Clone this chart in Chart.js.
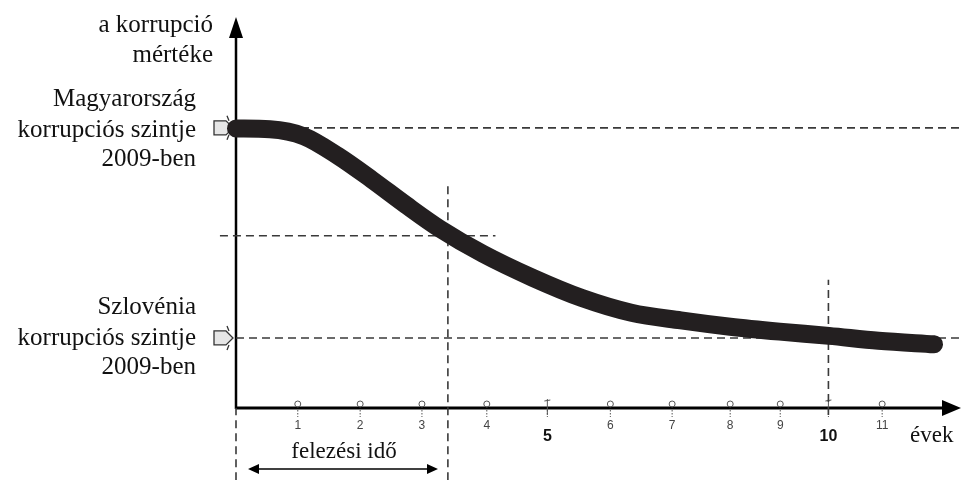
<!DOCTYPE html>
<html>
<head>
<meta charset="utf-8">
<script src="https://cdn.jsdelivr.net/npm/chart.js@4.4.1/dist/chart.umd.min.js"></script>
<style>
  html, body { margin: 0; padding: 0; background: #fff; }
  #wrap { width: 963px; height: 480px; }
</style>
</head>
<body>
<div id="wrap"><canvas id="c" width="963" height="480"></canvas></div>
<script>
// years on the axis and where each tick sits (the axis is hand-drawn, not even)
var tickYears = [1, 2, 3, 4, 5, 6, 7, 8, 9, 10, 11];
var tickPos = [1.0, 2.01, 3.01, 4.06, 5.04, 6.06, 7.06, 8.0, 8.81, 9.59, 10.46];
var boldYears = [5, 10];

// corruption curve
var curveX = [0, 0.55, 1.1, 1.65, 2.2, 2.75, 3.3, 4.0, 4.8, 5.6, 6.4, 7.2, 8.0, 8.8, 9.6, 10.4, 11.3];
var curveY = [3.99, 3.98, 3.88, 3.6, 3.26, 2.9, 2.56, 2.2, 1.86, 1.57, 1.36, 1.25, 1.16, 1.09, 1.03, 0.96, 0.91];

var huLevel = 4;     // Magyarország 2009
var slLevel = 1;     // Szlovénia 2009
var halfLevel = 2.46;
var halfTime = 3.43;
var yMax = 5.54;
var xMax = 11.72;

var dash = [8, 5];
var dashColor = '#3a3a3a';

function pts(xs, ys) {
  var out = [];
  for (var i = 0; i < xs.length; i++) out.push({x: xs[i], y: ys[i]});
  return out;
}

function dashed(xs, ys) {
  return {
    data: pts(xs, ys),
    borderColor: dashColor,
    borderWidth: 1.6,
    borderDash: dash,
    pointRadius: 0,
    fill: false,
    clip: false,
    order: 2
  };
}

var serif = '"Liberation Serif", "DejaVu Serif", serif';

var decor = {
  id: 'decor',
  beforeDatasetsDraw: function (chart) {
    var ctx = chart.ctx;
    var xs = chart.scales.x, ys = chart.scales.y;
    var x0 = xs.getPixelForValue(0), y0 = ys.getPixelForValue(0);
    ctx.save();
    ctx.strokeStyle = '#000';
    ctx.fillStyle = '#000';
    // y axis
    ctx.lineWidth = 2.5;
    ctx.beginPath();
    ctx.moveTo(x0, y0 + 1);
    ctx.lineTo(x0, 34);
    ctx.stroke();
    ctx.beginPath();
    ctx.moveTo(x0, 17);
    ctx.lineTo(x0 - 7, 38);
    ctx.lineTo(x0 + 7, 38);
    ctx.closePath();
    ctx.fill();
    // x axis
    ctx.lineWidth = 3;
    ctx.beginPath();
    ctx.moveTo(x0, y0);
    ctx.lineTo(946, y0);
    ctx.stroke();
    ctx.beginPath();
    ctx.moveTo(961, y0);
    ctx.lineTo(942, y0 - 8);
    ctx.lineTo(942, y0 + 8);
    ctx.closePath();
    ctx.fill();

    // tick marks: little circles with dotted stem
    ctx.lineWidth = 1;
    ctx.strokeStyle = '#555';
    for (var i = 0; i < tickPos.length; i++) {
      var px = xs.getPixelForValue(tickPos[i]);
      var bold = boldYears.indexOf(tickYears[i]) >= 0;
      ctx.beginPath();
      if (bold) {
        ctx.moveTo(px - 3, y0 - 7); ctx.lineTo(px + 3, y0 - 8);
        ctx.moveTo(px, y0 - 9); ctx.lineTo(px, y0 + 7);
      } else {
        ctx.arc(px, y0 - 4, 3, 0, Math.PI * 2);
      }
      ctx.stroke();
      ctx.save();
      ctx.setLineDash([1.5, 1.5]);
      ctx.beginPath();
      ctx.moveTo(px, y0 + 2);
      ctx.lineTo(px, y0 + 9);
      ctx.stroke();
      ctx.restore();

      ctx.textAlign = 'center';
      ctx.textBaseline = 'middle';
      if (bold) {
        ctx.fillStyle = '#111';
        ctx.font = 'bold 16px "Liberation Sans", Arial, sans-serif';
        ctx.fillText(String(tickYears[i]), px, y0 + 29);
      } else {
        ctx.fillStyle = '#444';
        ctx.font = '12px "Liberation Sans", Arial, sans-serif';
        ctx.fillText(String(tickYears[i]), px, y0 + 18);
      }
    }

    // level markers (small arrows left of y axis)
    [huLevel, slLevel].forEach(function (v) {
      var py = ys.getPixelForValue(v);
      ctx.beginPath();
      ctx.moveTo(x0 - 22, py - 7);
      ctx.lineTo(x0 - 10, py - 7);
      ctx.lineTo(x0 - 3, py);
      ctx.lineTo(x0 - 10, py + 7);
      ctx.lineTo(x0 - 22, py + 7);
      ctx.closePath();
      ctx.fillStyle = '#e6e6e6';
      ctx.fill();
      ctx.strokeStyle = '#333';
      ctx.lineWidth = 1.3;
      ctx.stroke();
      ctx.beginPath();
      ctx.moveTo(x0 - 9, py - 12);
      ctx.lineTo(x0 - 7, py - 7);
      ctx.moveTo(x0 - 9, py + 12);
      ctx.lineTo(x0 - 7, py + 7);
      ctx.stroke();
    });

    // texts
    ctx.fillStyle = '#111';
    ctx.font = '25px ' + serif;
    ctx.textAlign = 'right';
    ctx.textBaseline = 'middle';
    ctx.fillText('a korrupció', 213, 25);
    ctx.fillText('mértéke', 213, 55);
    var hy = ys.getPixelForValue(huLevel);
    ctx.fillText('Magyarország', 196, hy - 28);
    ctx.fillText('korrupciós szintje', 196, hy + 3);
    ctx.fillText('2009-ben', 196, hy + 32);
    var sy = ys.getPixelForValue(slLevel);
    ctx.fillText('Szlovénia', 196, sy - 31);
    ctx.fillText('korrupciós szintje', 196, sy);
    ctx.fillText('2009-ben', 196, sy + 29);
    ctx.font = '23px ' + serif;
    ctx.textAlign = 'left';
    ctx.fillText('évek', 910, y0 + 28);
    ctx.textAlign = 'center';
    ctx.fillText('felezési idő', 344, 452);

    // half-life double arrow
    ctx.strokeStyle = '#000';
    ctx.lineWidth = 1.5;
    ctx.beginPath();
    ctx.moveTo(256, 469);
    ctx.lineTo(432, 469);
    ctx.stroke();
    ctx.beginPath();
    ctx.moveTo(248, 469); ctx.lineTo(259, 464); ctx.lineTo(259, 474); ctx.closePath();
    ctx.moveTo(438, 469); ctx.lineTo(427, 464); ctx.lineTo(427, 474); ctx.closePath();
    ctx.fillStyle = '#000';
    ctx.fill();
    ctx.restore();
  }
};

new Chart(document.getElementById('c'), {
  type: 'line',
  data: {
    datasets: [
      {
        data: pts(curveX, curveY),
        borderColor: '#231f20',
        borderWidth: 18,
        borderCapStyle: 'round',
        borderJoinStyle: 'round',
        cubicInterpolationMode: 'monotone',
        pointRadius: 0,
        fill: false,
        clip: false,
        order: 1
      },
      dashed([0, xMax], [huLevel, huLevel]),
      dashed([0, xMax], [slLevel, slLevel]),
      dashed([-0.26, 4.2], [halfLevel, halfLevel]),
      dashed([halfTime, halfTime], [-1.03, 3.2]),
      dashed([0, 0], [-1.03, 0]),
      dashed([tickPos[9], tickPos[9]], [-0.1, 1.83])
    ]
  },
  options: {
    responsive: false,
    animation: false,
    layout: { padding: { left: 236, right: 3, top: 20, bottom: 72 } },
    plugins: { legend: { display: false }, tooltip: { enabled: false } },
    scales: {
      x: { type: 'linear', min: 0, max: xMax, display: false },
      y: { type: 'linear', min: 0, max: yMax, display: false }
    }
  },
  plugins: [decor]
});
</script>
</body>
</html>
